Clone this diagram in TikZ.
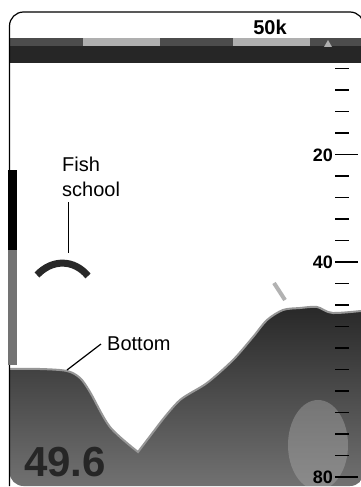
\documentclass[tikz,border=0pt]{standalone}
\usepackage{fontspec}
\setmainfont{Liberation Sans}
\usetikzlibrary{positioning}
\definecolor{echo}{RGB}{40,40,40}
\definecolor{bandlight}{RGB}{175,175,175}
\definecolor{rim}{RGB}{150,150,150}

\begin{document}
\begin{tikzpicture}[x=1pt, y=-1pt, font=\fontsize{20}{25}\selectfont,
    scalelbl/.style={font=\bfseries\fontsize{18}{18}\selectfont, anchor=east, inner sep=0pt},
    minortick/.style={line width=1.3pt},
    majortick/.style={line width=1.5pt}]
    \useasboundingbox (0,0) rectangle (360,487);
    \fill[white] (0,0) rectangle (360,487);
    % frame and band
    \begin{scope}
      \clip[rounded corners=14pt] (9.5,12) -- (364,12) -- (364,486) -- (9.5,486) -- cycle;
      \fill[black!85] (0,38) rectangle (370,63);
      \fill[black!70] (0,38) rectangle (83,46);
      \fill[bandlight] (83,38) rectangle (160,46);
      \fill[black!70] (160,38) rectangle (233,46);
      \fill[bandlight] (233,38) rectangle (310,46);
      \fill[black!70] (310,38) rectangle (370,46);
      \fill[bandlight] (328,40) -- (332,47) -- (324,47) -- cycle;
      % seabed
      \shade[top color=echo, bottom color=black!55]
        plot[smooth, tension=0.5] coordinates {(0,369) (40,369) (67,371) (80,378) (90,392) (110,427) (138,452)}
        -- plot[smooth, tension=0.5] coordinates {(160,423) (180,400) (207,383) (233,360) (253,337) (267,320) (283,310) (300,308) (317,307) (333,313) (370,310)}
        -- (370,490) -- (0,490) -- cycle;
      \fill[black!30, opacity=0.4] (318,445) ellipse (30 and 45);
      \draw[rim, line width=2pt]
        plot[smooth, tension=0.5] coordinates {(0,369) (40,369) (67,371) (80,378) (90,392) (110,427) (138,452)}
        -- plot[smooth, tension=0.5] coordinates {(160,423) (180,400) (207,383) (233,360) (253,337) (267,320) (283,310) (300,308) (317,307) (333,313) (370,310)};
    \end{scope}
    \draw[line width=1.2pt, rounded corners=14pt] (9.5,486) -- (9.5,12) -- (364,12) -- (364,486);
    \fill[black] (8,170) rectangle (17,250);
    \fill[black!55] (8,250) rectangle (17,365);
    \draw[black!30, line width=4pt] (274,283) -- (285,300);
    % fish school echo
    \draw[echo, line width=7pt] (37,275) .. controls (52,259) and (74,259) .. (88,276);
    % depth scale
    \foreach \d in {4,8,...,80} {
      \draw[minortick] (335,{47+5.375*\d}) -- (349,{47+5.375*\d});
    }
    \foreach \d in {20,40,80} {
      \draw[majortick] (337,{47+5.375*\d}) -- (358,{47+5.375*\d});
    }
    \node[scalelbl] (d20) at (333,155) {20};
    \node[scalelbl] (d40) at (333,262) {40};
    \node[scalelbl] (d80) at (333,477) {80};
    \node[font=\bfseries\fontsize{20}{20}\selectfont, inner sep=0pt] (range) at (270,27) {50k};
    \node[font=\bfseries\fontsize{42}{42}\selectfont, text=black!85, inner sep=0pt] (depth) at (65,462) {49.6};
    % labels
    \node[anchor=north west, inner sep=0pt, align=left] (fishlbl) at (62,157) {Fish\\school};
    \coordinate (schooltop) at (68,202);
    \coordinate (school) at (68,253);
    \draw[line width=1pt] (schooltop) -- (school);
    \node[anchor=west, inner sep=0pt] (bottomlbl) at (107,344) {Bottom};
    \coordinate (seabed) at (67,370);
    \draw[line width=1.2pt] ([xshift=-6pt]bottomlbl.west) -- (seabed);
\end{tikzpicture}
\end{document}
